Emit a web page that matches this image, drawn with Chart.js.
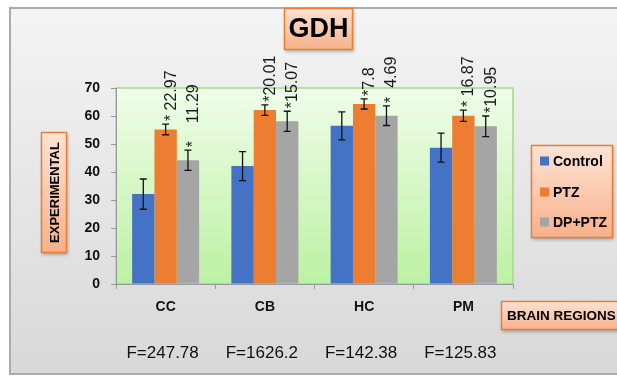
<!DOCTYPE html>
<html>
<head>
<meta charset="utf-8">
<script src="https://cdn.jsdelivr.net/npm/chart.js@4/dist/chart.umd.min.js"></script>
<style>
  html, body { margin:0; padding:0; background:#fff; }
  canvas { display:block; }
</style>
</head>
<body>
<canvas id="gdh" width="617" height="376"></canvas>
<script>
const regions = ['CC', 'CB', 'HC', 'PM'];
const fStats = ['F=247.78', 'F=1626.2', 'F=142.38', 'F=125.83'];
const yTicks = [0, 10, 20, 30, 40, 50, 60, 70];

const control = [32.1, 42.1, 56.5, 48.7];
const controlErr = [5.4, 5.2, 5.0, 5.2];
const ptz = [55.2, 62.1, 64.3, 60.1];
const ptzErr = [1.9, 1.9, 1.8, 2.0];
const dpPtz = [44.2, 58.1, 60.1, 56.3];
const dpPtzErr = [3.6, 3.6, 3.5, 3.7];

// percent changes written over the bars
const ptzNotes = ['* 22.97', '*20.01', '*7.8', '* 16.87'];
const dpPtzNotes = ['*    11.29', '*15.07', '*  4.69', '*10.95'];

const BLUE='#4472c4', ORANGE='#ed7d31', GREY='#a5a5a5';
const FONT='"Liberation Sans", Arial, sans-serif';

function peachBox(ctx, x, y, w, h) {
  ctx.save();
  ctx.shadowColor='rgba(0,0,0,0.25)'; ctx.shadowBlur=3; ctx.shadowOffsetX=1; ctx.shadowOffsetY=2;
  const g=ctx.createLinearGradient(0,y,0,y+h);
  g.addColorStop(0,'#fde3d4'); g.addColorStop(1,'#f8b08a');
  ctx.fillStyle=g; ctx.fillRect(x,y,w,h);
  ctx.restore();
  ctx.save();
  ctx.strokeStyle=ORANGE; ctx.lineWidth=1.5;
  ctx.strokeRect(x+0.5,y+0.5,w-1,h-1);
  ctx.restore();
}

const backdrop = {
  id:'backdrop',
  beforeDraw(chart){
    const ctx=chart.ctx, a=chart.chartArea;
    ctx.save();
    ctx.fillStyle='#fff'; ctx.fillRect(0,0,chart.width,chart.height);
    const g=ctx.createLinearGradient(0,8,0,374);
    g.addColorStop(0,'#f4f4f4'); g.addColorStop(1,'#d8d8d8');
    ctx.fillStyle=g; ctx.fillRect(10,8,620,366);
    ctx.strokeStyle='#ababab'; ctx.lineWidth=2;
    ctx.strokeRect(10,8,620,366);
    const pg=ctx.createLinearGradient(0,a.top,0,a.bottom);
    pg.addColorStop(0,'#effde9'); pg.addColorStop(1,'#bdf1a3');
    ctx.fillStyle=pg; ctx.fillRect(a.left,a.top,a.right-a.left,a.bottom-a.top);
    ctx.strokeStyle='#a3d98c'; ctx.lineWidth=1.5;
    ctx.strokeRect(a.left,a.top,a.right-a.left,a.bottom-a.top);
    ctx.restore();
  }
};

const errs=[controlErr, ptzErr, dpPtzErr];
const notes=[null, ptzNotes, dpPtzNotes];

const extras = {
  id:'extras',
  afterDatasetsDraw(chart){
    const ctx=chart.ctx, y=chart.scales.y, x=chart.scales.x;
    ctx.save();
    chart.data.datasets.forEach((ds,di)=>{
      chart.getDatasetMeta(di).data.forEach((bar,i)=>{
        const v=ds.data[i], e=errs[di][i];
        const top=y.getPixelForValue(v+e), bot=y.getPixelForValue(v-e);
        ctx.strokeStyle='#111'; ctx.lineWidth=1.3;
        ctx.beginPath();
        ctx.moveTo(bar.x,top); ctx.lineTo(bar.x,bot);
        ctx.moveTo(bar.x-3.5,top); ctx.lineTo(bar.x+3.5,top);
        ctx.moveTo(bar.x-3.5,bot); ctx.lineTo(bar.x+3.5,bot);
        ctx.stroke();
        if(notes[di]){
          ctx.save();
          ctx.translate(bar.x+10, top-3);
          ctx.rotate(-Math.PI/2);
          ctx.fillStyle='#1a1a1a';
          ctx.font='16px '+FONT;
          ctx.textAlign='left'; ctx.textBaseline='alphabetic';
          ctx.fillText(notes[di][i],0,0);
          ctx.restore();
        }
      });
    });

    // F statistics under each region
    ctx.fillStyle='#111'; ctx.font='17px '+FONT;
    ctx.textAlign='center'; ctx.textBaseline='middle';
    fStats.forEach((f,i)=>ctx.fillText(f, x.getPixelForValue(i)-3, 353));

    // title
    peachBox(ctx,284,8,69,42);
    ctx.fillStyle='#000'; ctx.font='bold 27px '+FONT;
    ctx.fillText('GDH',318.5,30);

    // y axis title
    peachBox(ctx,41,132,26,121);
    ctx.save();
    ctx.translate(55,192.5); ctx.rotate(-Math.PI/2);
    ctx.font='bold 13px '+FONT; ctx.fillStyle='#000';
    ctx.fillText('EXPERIMENTAL',0,0);
    ctx.restore();

    // x axis title
    peachBox(ctx,501,301,130,29);
    ctx.textAlign='left'; ctx.font='bold 13.5px '+FONT; ctx.fillStyle='#000';
    ctx.fillText('BRAIN REGIONS',507,316);

    // legend
    peachBox(ctx,531,145,82,93);
    const items=[['Control',BLUE,161],['PTZ',ORANGE,192],['DP+PTZ',GREY,222]];
    ctx.font='bold 14px '+FONT;
    items.forEach(([t,c,yy])=>{
      ctx.fillStyle=c; ctx.fillRect(540,yy-4.5,9,9);
      ctx.fillStyle='#000'; ctx.fillText(t,553,yy+1);
    });
    ctx.restore();
  }
};

new Chart(document.getElementById('gdh'), {
  type:'bar',
  data:{
    labels:regions,
    datasets:[
      { label:'Control', data:control, backgroundColor:BLUE },
      { label:'PTZ', data:ptz, backgroundColor:ORANGE },
      { label:'DP+PTZ', data:dpPtz, backgroundColor:GREY }
    ]
  },
  options:{
    responsive:false,
    animation:false,
    devicePixelRatio:1,
    layout:{ padding:{ top:88, right:104, bottom:0, left:0 } },
    datasets:{ bar:{ categoryPercentage:0.675, barPercentage:1.0, borderWidth:0 } },
    plugins:{ legend:{ display:false }, tooltip:{ enabled:false } },
    scales:{
      x:{
        grid:{ display:true, drawOnChartArea:false, offset:true, tickLength:5, color:'#9a9a9a' },
        border:{ color:'#9a9a9a' },
        ticks:{ color:'#111', font:{ family:FONT, size:14, weight:'bold' }, padding:10 },
        afterFit(s){ s.height=92; }
      },
      y:{
        min:0, max:70,
        afterBuildTicks(s){ s.ticks=yTicks.map(v=>({value:v})); },
        grid:{ display:true, drawOnChartArea:false, tickLength:5, color:'#9a9a9a' },
        border:{ color:'#9a9a9a' },
        ticks:{ color:'#111', font:{ family:FONT, size:14, weight:'bold' }, padding:11 },
        afterFit(s){ s.width=116; }
      }
    }
  },
  plugins:[backdrop, extras]
});
</script>
</body>
</html>
